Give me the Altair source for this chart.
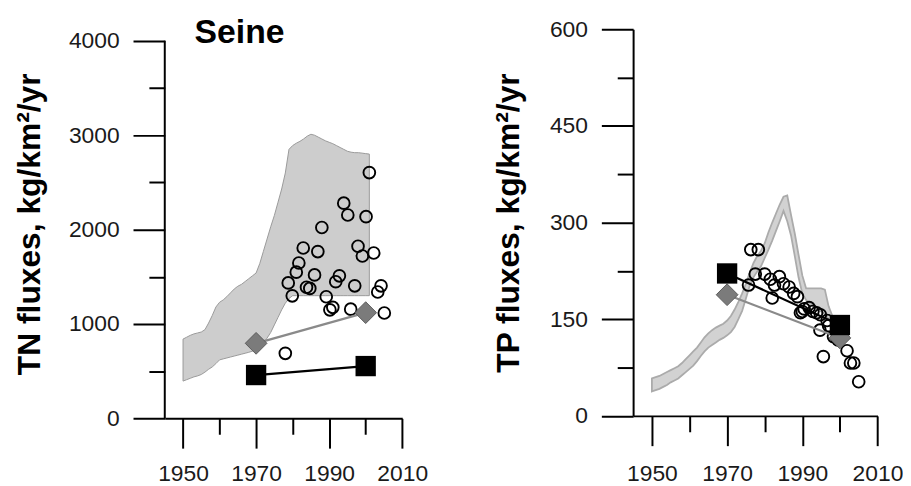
import altair as alt
import pandas as pd

# ---------------- data ----------------
band_years = list(range(1950, 2002))

tn_band_low = [395, 410, 425, 440, 450, 465, 490, 520, 545, 580,
               620, 630, 640, 650, 660, 670, 680, 690, 700, 712,
               725, 760, 800, 850, 910, 990, 1070, 1150, 1220, 1270,
               1300, 1300, 1300, 1300, 1300, 1300, 1300, 1300, 1300, 1300,
               1300, 1300, 1300, 1300, 1300, 1300, 1300, 1300, 1300, 1300,
               1300, 1300]
tn_band_high = [840, 860, 880, 895, 905, 915, 940, 1010, 1090, 1180,
                1230, 1255, 1290, 1330, 1370, 1400, 1420, 1450, 1480, 1510,
                1540, 1640, 1770, 1900, 2030, 2150, 2290, 2430, 2600, 2850,
                2890, 2915, 2935, 2960, 2990, 3010, 3000, 2980, 2960, 2940,
                2925, 2910, 2890, 2870, 2850, 2830, 2820, 2815, 2815, 2810,
                2805, 2800]

tp_band_low = [38, 40, 42, 45, 48, 52, 55, 58, 63, 68,
               73, 78, 85, 93, 100, 106, 110, 114, 118, 121,
               125, 130, 138, 150, 163, 182, 202, 215, 224, 232,
               245, 258, 272, 287, 302, 318, 302, 280, 248, 215,
               190, 180, 175, 170, 166, 162, 158, 150, 142, 133,
               124, 116]
tp_band_high = [58, 60, 62, 65, 68, 71, 74, 77, 82, 88,
                94, 100, 106, 114, 122, 128, 133, 137, 140, 143,
                148, 155, 165, 177, 190, 205, 222, 237, 248, 256,
                268, 285, 300, 314, 328, 340, 342, 312, 283, 250,
                218, 198, 198, 198, 198, 198, 196, 170, 155, 143,
                132, 124]

tn_obs_year = [2001.0, 1994.0, 1995.1, 2000.1, 1988.0, 1982.9, 1986.9, 1997.9,
               1999.1, 2002.2, 1981.7, 1981.0, 1986.0, 1978.8, 1992.8, 1991.8,
               1997.0, 1983.8, 1984.7, 1979.9, 1989.2, 2004.2, 2003.3, 1991.0,
               1990.2, 1995.9, 2005.1, 1978.0]
tn_obs_value = [2604, 2280, 2155, 2137, 2022, 1805, 1767, 1823,
                1720, 1752, 1646, 1549, 1520, 1435, 1510, 1448,
                1404, 1389, 1377, 1298, 1289, 1404, 1339, 1176,
                1150, 1157, 1116, 689]

tp_obs_year = [1975.7, 1976.3, 1977.5, 1978.3, 1980.0, 1981.5, 1982.0, 1982.6,
               1983.9, 1985.0, 1986.5, 1987.7, 1988.7, 1989.5, 1990.0, 1990.5,
               1991.8, 1992.8, 1993.8, 1994.8, 1994.7, 1995.6, 1996.6, 1997.0,
               1998.3, 1999.5, 2001.9, 2002.8, 2003.7, 2005.0]
tp_obs_value = [203, 258, 220, 258, 220, 212, 183, 203,
                216, 205, 200, 190, 185, 160, 162, 166,
                168, 162, 160, 157, 133, 92, 148, 140,
                123, 118, 101, 82, 82, 53]

model_years = [1970, 2000]
tn_diamond = [795, 1120]
tn_square = [459, 554]
tp_diamond = [188, 121]
tp_square = [221, 141]

x_ticks = [1950, 1960, 1970, 1980, 1990, 2000, 2010]
x_domain = [1945, 2010]
tn_ticks = [0, 500, 1000, 1500, 2000, 2500, 3000, 3500, 4000]
tp_ticks = [0, 75, 150, 225, 300, 375, 450, 525, 600]
panel_title = "Seine"

FONT = "Liberation Sans"


def panel(low, high, oyear, oval, diamond, square, ydomain, yticks, major,
          ytitle, w, h, xlabpad, ytitlepad, bfill, bstroke, bsw, own_domain_line):
    xscale = alt.Scale(domain=x_domain, nice=False, zero=False)
    yscale = alt.Scale(domain=ydomain, nice=False, zero=False)
    xaxis = alt.Axis(
        values=x_ticks, title=None, format="d",
        labelExpr="datum.value % 20 == 10 ? datum.label : ''",
        tickSize={"condition": {"test": "datum.value % 20 == 10", "value": 30}, "value": 16},
        labelPadding=xlabpad, labelFlush=False, labelOverlap=False,
    )
    yaxis = alt.Axis(
        values=yticks, title=ytitle, format="d",
        labelExpr=f"datum.value % {major} == 0 ? datum.label : ''",
        tickSize={"condition": {"test": f"datum.value % {major} == 0", "value": 32}, "value": 16},
        labelPadding=14, titlePadding=ytitlepad, labelFlush=False, labelOverlap=False,
        domain=not own_domain_line,
    )
    X = lambda f: alt.X(f"{f}:Q", scale=xscale, axis=xaxis)
    Y = lambda f: alt.Y(f"{f}:Q", scale=yscale, axis=yaxis)

    band_df = pd.DataFrame({"year": band_years, "low": low, "high": high})
    obs_df = pd.DataFrame({"year": oyear, "value": oval})
    mod_df = pd.DataFrame({"year": model_years, "diamond": diamond, "square": square})

    band = alt.Chart(band_df).mark_area(
        fill=bfill, stroke=bstroke, strokeWidth=bsw, opacity=1
    ).encode(x=X("year"), y=Y("low"), y2="high:Q")
    circles = alt.Chart(obs_df).mark_point(
        shape="circle", filled=False, color="black", strokeWidth=1.9, size=140, opacity=1
    ).encode(x=X("year"), y=Y("value"))
    dline = alt.Chart(mod_df).mark_line(color="#8a8a8a", strokeWidth=2.2).encode(
        x=X("year"), y=Y("diamond"))
    dpts = alt.Chart(mod_df).mark_point(
        shape="diamond", filled=True, fill="#7b7b7b", stroke="#5c5c5c", strokeWidth=1,
        size=480, opacity=1
    ).encode(x=X("year"), y=Y("diamond"))
    sline = alt.Chart(mod_df).mark_line(color="black", strokeWidth=2.2).encode(
        x=X("year"), y=Y("square"))
    spts = alt.Chart(mod_df).mark_square(color="black", size=420, opacity=1).encode(
        x=X("year"), y=Y("square"))
    layers = [band, circles, dline, dpts, sline, spts]
    if own_domain_line:
        axis_df = pd.DataFrame({"year": [x_domain[0]], "y0": [yticks[0]], "y1": [yticks[-1]]})
        layers.append(alt.Chart(axis_df).mark_rule(color="black", strokeWidth=2).encode(
            x=X("year"), y=Y("y0"), y2="y1:Q"))
    return layers, w, h


# left panel: plot area starts at the same top as the right one; scale is
# stretched so that 4000 sits lower, as in the reference
l_layers, lw, lh = panel(tn_band_low, tn_band_high, tn_obs_year, tn_obs_value, tn_diamond,
                         tn_square, [0, 4123], tn_ticks, 1000, "TN fluxes, kg/km²/yr",
                         239.3, 392.2, 14.5, 22, "#cdcdcd", "#9a9a9a", 1, True)
title_mark = alt.Chart(pd.DataFrame({"label": [panel_title]})).mark_text(
    align="left", baseline="alphabetic", font=FONT, fontSize=34, fontWeight="bold",
    color="black"
).encode(text="label:N", x=alt.value(30), y=alt.value(14.2))
left = alt.layer(*l_layers, title_mark).properties(width=lw, height=lh)

r_layers, rw, rh = panel(tp_band_low, tp_band_high, tp_obs_year, tp_obs_value, tp_diamond,
                         tp_square, [0, 600], tp_ticks, 150, "TP fluxes, kg/km²/yr",
                         246.3, 389.7, 17, 24, "#d2d2d2", "#ababab", 1.8, False)
right = alt.layer(*r_layers).properties(width=rw, height=rh)

chart = alt.concat(left, right, columns=2, spacing=65, align="none", bounds="full").properties(
    padding={"left": 5, "top": 6.5, "right": 0, "bottom": 0}
).configure_view(stroke=None).configure_axis(
    grid=False, domainColor="black", domainWidth=2, tickColor="black", tickWidth=2,
    labelFont=FONT, labelFontSize=23, labelColor="#1a1a1a",
    titleFont=FONT, titleFontSize=32, titleFontWeight="bold", titleColor="black",
)

chart.save("out.html", embed_options={"renderer": "svg", "actions": False})
